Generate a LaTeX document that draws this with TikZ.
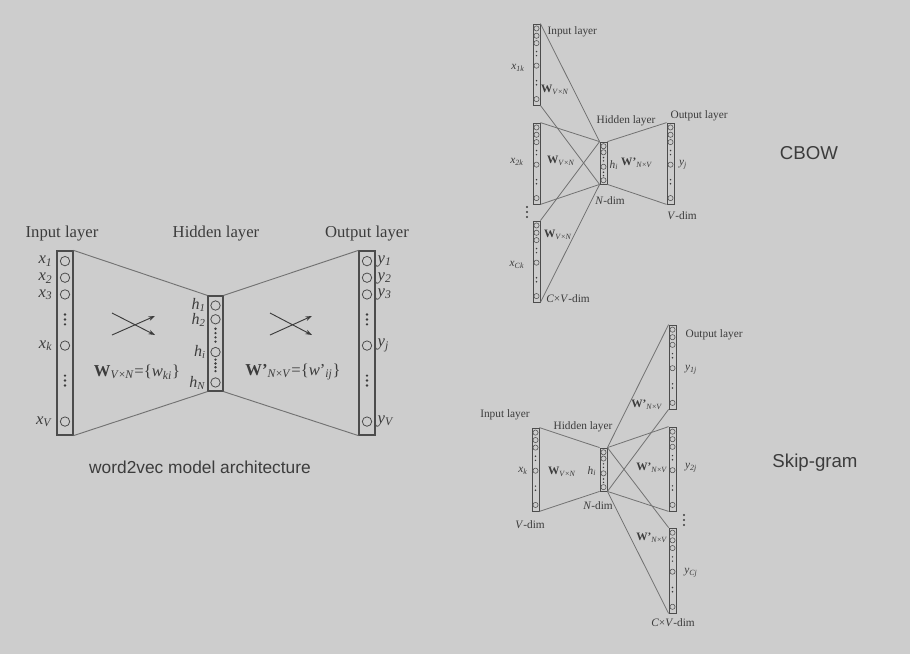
\documentclass[tikz,border=0pt]{standalone}
\usepackage{fontspec}
\setmainfont{Liberation Serif}
\newfontfamily\sansf{Liberation Sans}
\usetikzlibrary{arrows.meta,fit}
\definecolor{bg}{HTML}{CDCDCD}
\definecolor{txt}{HTML}{3C3C3C}
\definecolor{ln}{HTML}{727272}
\definecolor{bx}{HTML}{4C4C4C}
\newcommand\vs[2]{\textit{#1}\textsubscript{\textit{#2}}}
\newcommand\Wvn{\textbf{W}\textsubscript{\textit{V}×\textit{N}}}
\newcommand\Wnv{\textbf{W'}\textsubscript{\textit{N}×\textit{V}}}
\def\iocirc{0.055,0.145,0.236,0.514,0.927}
\def\iodotsbig{0.345,0.372,0.399,0.677,0.704,0.731}
\def\iodotssmall{0.34,0.39,0.70,0.75}
\def\hidcirc{0.10,0.245,0.59,0.91}
\def\hiddotsbig{0.345,0.39,0.435,0.48,0.67,0.71,0.75,0.79}
\def\hiddotssmall{0.37,0.45,0.72,0.80}
\newcommand\mkcol[9]{%
  \node[colbox,fit={(#2,#3) (#4,#5)}] (#1) {};
  \foreach \f in #7 {\draw[circ] ({(#2+#4)/2},{#3+\f*(#5-#3)}) circle[radius={#6*0.75pt}];}
  \foreach \f in #8 {\fill[txt] ({(#2+#4)/2},{#3+\f*(#5-#3)}) circle[radius={#9*0.75pt}];}
}
\tikzset{
  colbox/.style={draw=bx, line width=0.9pt, inner sep=0pt},
  circ/.style={draw=bx, line width=0.6pt},
  conn/.style={draw=ln, line width=0.7pt},
  xarr/.style={draw=txt, line width=0.7pt, -{Stealth[length=5pt,width=3.5pt]}},
  big/.style={text=txt, font=\fontsize{12.5}{14}\selectfont, inner sep=1pt},
  sm/.style={text=txt, font=\fontsize{8.5}{10}\selectfont, inner sep=1pt},
  captxt/.style={text=txt, font=\sansf\fontsize{13}{15}\selectfont, inner sep=0pt},
}
\begin{document}
\begin{tikzpicture}[x=0.75pt,y=-0.75pt]
\fill[bg] (0,0) rectangle (910,654);
\useasboundingbox (0,0) rectangle (910,654);

% ---------- left: word2vec architecture ----------
\mkcol{in}{57}{251}{73}{435}{4.7}{\iocirc}{\iodotsbig}{1.3}
\mkcol{hid}{208}{296}{223}{391}{4.7}{\hidcirc}{\hiddotsbig}{1.3}
\mkcol{out}{359}{251}{375}{435}{4.7}{\iocirc}{\iodotsbig}{1.3}
\draw[conn] (in.north east) -- (hid.north west);
\draw[conn] (in.south east) -- (hid.south west);
\draw[conn] (hid.north east) -- (out.north west);
\draw[conn] (hid.south east) -- (out.south west);

\node[big] (tin) at (62,234) {Input layer};
\node[big] (thid) at (216,234) {Hidden layer};
\node[big] (tout) at (367,234) {Output layer};

\node[big,anchor=east] (x1) at (54,261) {\vs{x}{1}};
\node[big,anchor=east] (x2) at (54,278) {\vs{x}{2}};
\node[big,anchor=east] (x3) at (54,294.5) {\vs{x}{3}};
\node[big,anchor=east] (xk) at (54,345.5) {\vs{x}{k}};
\node[big,anchor=east] (xV) at (54,421.5) {\vs{x}{V}};

\node[big,anchor=east,inner sep=0pt,font=\fontsize{12}{13}\selectfont] (h1) at (206,305) {\vs{h}{1}};
\node[big,anchor=east,inner sep=0pt,font=\fontsize{12}{13}\selectfont] (h2) at (206,320) {\vs{h}{2}};
\node[big,anchor=east,inner sep=0pt,font=\fontsize{12}{13}\selectfont] (hi) at (206,352) {\vs{h}{i}};
\node[big,anchor=east,inner sep=0pt,font=\fontsize{12}{13}\selectfont] (hN) at (206,383) {\vs{h}{N}};

\node[big,anchor=west] (y1) at (376,261) {\vs{y}{1}};
\node[big,anchor=west] (y2) at (376,278) {\vs{y}{2}};
\node[big,anchor=west] (y3) at (376,294.5) {\vs{y}{3}};
\node[big,anchor=west] (yj) at (376,345.5) {\vs{y}{j}};
\node[big,anchor=west] (yV) at (376,421.5) {\vs{y}{V}};

\coordinate (a1s) at (112,313); \coordinate (a1e) at (155,335);
\coordinate (a2s) at (112,335); \coordinate (a2e) at (155,316);
\coordinate (a3s) at (270,313); \coordinate (a3e) at (312,335);
\coordinate (a4s) at (270,335); \coordinate (a4e) at (312,316);
\draw[xarr] (a1s) -- (a1e);
\draw[xarr] (a2s) -- (a2e);
\draw[xarr] (a3s) -- (a3e);
\draw[xarr] (a4s) -- (a4e);

\node[big] (w1) at (137,372) {\Wvn=\{\textit{w}\textsubscript{\textit{ki}}\}};
\node[big] (w2) at (293,372) {\Wnv=\{\textit{w}'\textsubscript{\textit{ij}}\}};

\node[captxt] (capL) at (200,467) {word2vec model architecture};

% ---------- CBOW ----------
\begin{scope}[colbox/.append style={line width=0.6pt}, circ/.append style={line width=0.4pt}, conn/.append style={line width=0.6pt}]
\mkcol{ci1}{533}{24}{540}{105}{2.6}{\iocirc}{\iodotssmall}{0.8}
\mkcol{ci2}{533}{123}{540}{204}{2.6}{\iocirc}{\iodotssmall}{0.8}
\mkcol{ci3}{533}{221}{540}{302}{2.6}{\iocirc}{\iodotssmall}{0.8}
\mkcol{ch}{600}{142}{607}{184}{2.6}{\hidcirc}{\hiddotssmall}{0.8}
\mkcol{co}{667}{123}{674}{204}{2.6}{\iocirc}{\iodotssmall}{0.8}
\draw[conn] (ci1.north east) -- (ch.north west);
\draw[conn] (ci1.south east) -- (ch.south west);
\draw[conn] (ci2.north east) -- (ch.north west);
\draw[conn] (ci2.south east) -- (ch.south west);
\draw[conn] (ci3.north east) -- (ch.north west);
\draw[conn] (ci3.south east) -- (ch.south west);
\draw[conn] (ch.north east) -- (co.north west);
\draw[conn] (ch.south east) -- (co.south west);
\foreach \yy in {207,212,217} \fill[txt] (527,\yy) circle[radius=0.8pt];

\node[sm,anchor=west] (cinl) at (546,32) {Input layer};
\node[sm] (cx1) at (518,68) {\vs{x}{1k}};
\node[sm] (cw1) at (555,90) {\Wvn};
\node[sm] (cx2) at (517,162) {\vs{x}{2k}};
\node[sm] (cw2) at (561,161) {\Wvn};
\node[sm] (cx3) at (517,265) {\vs{x}{Ck}};
\node[sm] (cw3) at (558,235) {\Wvn};
\node[sm] (ccv) at (568,299) {\textit{C}×\textit{V}-dim};
\node[sm] (chl) at (626,121) {Hidden layer};
\node[sm,anchor=west] (chi) at (608,165) {\vs{h}{i}};
\node[sm] (cnd) at (610,201) {\textit{N}-dim};
\node[sm] (cw4) at (637,163) {\Wnv};
\node[sm,anchor=west] (col) at (669,116) {Output layer};
\node[sm] (cyj) at (683,165) {\vs{y}{j}};
\node[sm] (cvd) at (682,216) {\textit{V}-dim};
\end{scope}
\node[captxt,font=\sansf\fontsize{14}{16}\selectfont] (capC) at (809,153) {CBOW};

% ---------- Skip-gram ----------
\begin{scope}[colbox/.append style={line width=0.6pt}, circ/.append style={line width=0.4pt}, conn/.append style={line width=0.6pt}]
\mkcol{si}{532}{428}{539}{511}{2.6}{\iocirc}{\iodotssmall}{0.8}
\mkcol{sh}{600}{448}{607}{491}{2.6}{\hidcirc}{\hiddotssmall}{0.8}
\mkcol{so1}{669}{325}{676}{409}{2.6}{\iocirc}{\iodotssmall}{0.8}
\mkcol{so2}{669}{427}{676}{511}{2.6}{\iocirc}{\iodotssmall}{0.8}
\mkcol{so3}{669}{528}{676}{613}{2.6}{\iocirc}{\iodotssmall}{0.8}
\draw[conn] (si.north east) -- (sh.north west);
\draw[conn] (si.south east) -- (sh.south west);
\foreach \o in {so1,so2,so3}{
  \draw[conn] (sh.north east) -- (\o.north west);
  \draw[conn] (sh.south east) -- (\o.south west);
}
\foreach \yy in {515,520,525} \fill[txt] (684,\yy) circle[radius=0.8pt];

\node[sm] (sinl) at (505,415) {Input layer};
\node[sm] (sxk) at (523,471) {\vs{x}{k}};
\node[sm] (sw1) at (562,472) {\Wvn};
\node[sm] (svd) at (530,525) {\textit{V}-dim};
\node[sm] (shl) at (583,427) {Hidden layer};
\node[sm] (shi) at (592,471) {\vs{h}{i}};
\node[sm] (snd) at (598,506) {\textit{N}-dim};
\node[sm,anchor=west] (sol) at (684,335) {Output layer};
\node[sm] (sy1) at (691,370) {\vs{y}{1j}};
\node[sm] (sw2) at (647,405) {\Wnv};
\node[sm] (sy2) at (691,468) {\vs{y}{2j}};
\node[sm] (sw3) at (652,468) {\Wnv};
\node[sm] (sy3) at (691,573) {\vs{y}{Cj}};
\node[sm] (sw4) at (652,538) {\Wnv};
\node[sm] (scv) at (673,623) {\textit{C}×\textit{V}-dim};
\end{scope}
\node[captxt,font=\sansf\fontsize{14}{16}\selectfont] (capS) at (815,463) {Skip-gram};
\end{tikzpicture}
\end{document}
